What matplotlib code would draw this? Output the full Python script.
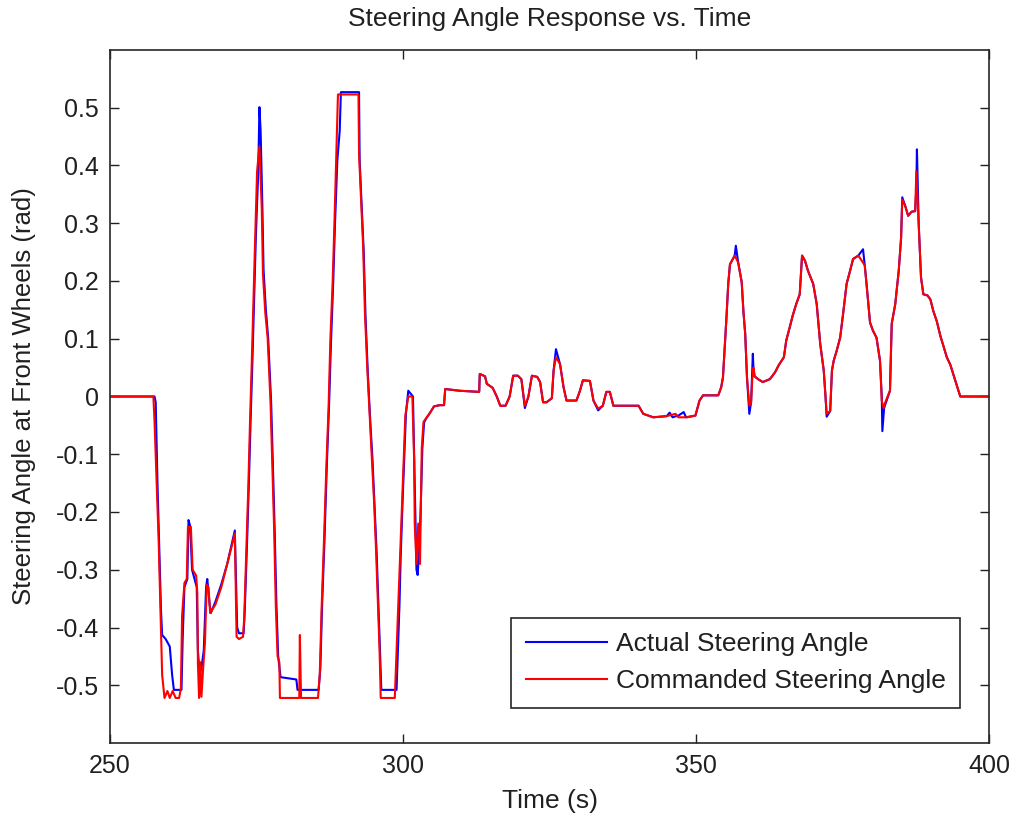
import matplotlib
matplotlib.use("Agg")
import matplotlib.pyplot as plt
from matplotlib.ticker import FixedLocator, FixedFormatter

plt.rcParams['font.family'] = ['Liberation Sans', 'DejaVu Sans']
plt.rcParams['axes.unicode_minus'] = False

# Commanded steering angle (red)
t_cmd = [250, 257.4, 257.6, 258.0, 258.3, 258.6, 258.9, 259.3, 259.8, 260.2, 260.7, 261.2, 261.8, 262.1,
         262.3, 262.7, 263.1, 263.3, 263.8, 264.1, 264.7, 264.9, 265.0, 265.2, 265.4, 265.6, 265.9, 266.2,
         266.5, 266.8, 267.1, 268.0, 269.0, 270.0, 271.0, 271.3, 271.6, 272.0, 272.7, 272.9, 273.3, 273.6,
         273.9, 274.2, 274.5, 274.8, 275.1, 275.5, 275.9, 276.1, 276.5, 276.9, 277.4, 277.7, 278.0, 278.3,
         278.6, 278.9, 279.0, 282.3, 282.4, 282.6, 285.5, 285.8, 286.1, 286.5, 286.9, 287.3, 287.6, 288.0,
         288.3, 288.6, 288.9, 292.4, 292.5, 292.8, 293.2, 293.5, 293.9, 294.3, 294.7, 295.1, 295.4, 295.7,
         296.0, 296.2, 298.6, 298.9, 299.2, 299.5, 299.8, 300.1, 300.4, 300.9, 301.6, 301.9, 302.0, 302.3,
         302.6, 302.9, 303.2, 303.5, 304.0, 304.5, 305.3, 306.3, 307.0, 307.2, 309.6, 313.0, 313.1, 314.0,
         314.3, 315.3, 316.0, 316.6, 317.5, 318.2, 318.8, 319.6, 320.2, 320.8, 321.4, 322.0, 322.9, 323.4,
         323.9, 324.5, 325.4, 325.7, 326.1, 326.8, 327.4, 327.9, 329.6, 330.2, 330.7, 331.9, 332.5, 333.3,
         334.1, 334.7, 335.3, 335.9, 340.2, 341.0, 342.7, 345.0, 346.5, 347.0, 348.5, 349.9, 350.6, 351.2,
         353.8, 354.3, 354.6, 354.9, 355.2, 355.5, 355.8, 356.6, 356.8, 357.2, 357.8, 358.1, 358.4, 358.7,
         359.1, 359.4, 359.6, 359.8, 360.0, 360.6, 361.4, 362.6, 363.5, 364.1, 365.0, 365.4, 366.0, 366.5,
         367.1, 367.7, 368.1, 368.6, 369.1, 370.0, 370.6, 371.2, 371.8, 372.1, 372.3, 372.9, 373.2, 373.5,
         374.0, 374.6, 375.1, 375.7, 376.3, 376.8, 377.7, 378.3, 378.8, 379.1, 379.7, 380.2, 380.8, 381.4,
         381.7, 382.0, 382.3, 383.1, 383.4, 384.0, 384.6, 385.0, 385.2, 385.7, 386.2, 386.8, 387.4, 387.6,
         388.0, 388.4, 388.8, 389.5, 390.0, 390.5, 391.1, 391.7, 392.2, 392.8, 393.4, 393.9, 394.5, 395.1, 400]
v_cmd = [0, 0, -0.044, -0.163, -0.249, -0.366, -0.482, -0.522, -0.51, -0.522, -0.51, -0.522, -0.522, -0.505,
         -0.38, -0.323, -0.316, -0.226, -0.226, -0.30, -0.31, -0.34, -0.461, -0.522, -0.46, -0.52, -0.47, -0.427,
         -0.326, -0.33, -0.375, -0.36, -0.33, -0.29, -0.25, -0.237, -0.416, -0.42, -0.416, -0.385, -0.254, -0.157,
         -0.041, 0.062, 0.174, 0.284, 0.39, 0.433, 0.325, 0.212, 0.145, 0.102, -0.012, -0.116, -0.226, -0.364,
         -0.45, -0.46, -0.522, -0.522, -0.413, -0.522, -0.522, -0.48, -0.37, -0.254, -0.128, -0.018, 0.097, 0.2,
         0.301, 0.413, 0.523, 0.523, 0.42, 0.35, 0.26, 0.146, 0.05, -0.03, -0.107, -0.19, -0.266, -0.352,
         -0.439, -0.522, -0.522, -0.44, -0.358, -0.278, -0.191, -0.11, -0.033, 0.0, 0.0, -0.11, -0.22, -0.29,
         -0.22, -0.29, -0.09, -0.044, -0.037, -0.03, -0.017, -0.015, -0.015, 0.013, 0.01, 0.008, 0.039, 0.035,
         0.022, 0.015, 0.0, -0.016, -0.016, 0.0, 0.036, 0.036, 0.03, -0.016, 0.0, 0.036, 0.034, 0.025,
         -0.01, -0.01, -0.003, 0.045, 0.068, 0.056, 0.016, -0.007, -0.007, 0.01, 0.028, 0.027, -0.007, -0.021,
         -0.016, 0.008, 0.008, -0.016, -0.016, -0.03, -0.036, -0.034, -0.03, -0.036, -0.036, -0.033, -0.007, 0.002,
         0.002, 0.016, 0.033, 0.085, 0.137, 0.195, 0.229, 0.244, 0.24, 0.232, 0.198, 0.146, 0.108, 0.033,
         -0.016, -0.01, 0.03, 0.05, 0.035, 0.03, 0.025, 0.03, 0.042, 0.054, 0.068, 0.097, 0.12, 0.14,
         0.16, 0.177, 0.244, 0.235, 0.218, 0.195, 0.16, 0.091, 0.045, 0.0, -0.03, -0.025, 0.045, 0.062,
         0.079, 0.102, 0.143, 0.195, 0.218, 0.238, 0.244, 0.235, 0.227, 0.195, 0.128, 0.114, 0.102, 0.062,
         -0.007, -0.02, -0.01, 0.01, 0.126, 0.16, 0.218, 0.275, 0.341, 0.33, 0.313, 0.32, 0.321, 0.39,
         0.30, 0.206, 0.177, 0.175, 0.168, 0.148, 0.13, 0.105, 0.088, 0.068, 0.055, 0.039, 0.02, 0.0, 0.0]

# Actual steering angle (blue)
t_act = [250, 257.6, 257.8, 258.1, 258.4, 258.7, 258.9, 259.5, 260.2, 260.6, 260.9, 262.2, 262.4, 262.7,
         263.2, 263.4, 263.7, 264.0, 264.8, 265.0, 265.3, 265.6, 266.0, 266.4, 266.6, 267.0, 267.2, 268.0,
         269.0, 270.0, 271.3, 271.7, 272.0, 272.8, 273.0, 273.4, 273.7, 274.0, 274.3, 274.6, 274.9, 275.3,
         275.5, 275.7, 276.0, 276.2, 276.6, 277.0, 277.5, 277.8, 278.1, 278.4, 278.7, 279.1, 281.8, 282.0,
         285.6, 285.9, 286.2, 286.6, 287.0, 287.4, 287.7, 288.1, 288.4, 288.8, 289.2, 289.4, 292.5, 292.6,
         292.9, 293.3, 293.6, 294.0, 294.4, 294.8, 295.2, 295.5, 295.8, 296.1, 296.3, 298.9, 299.1, 299.4,
         299.6, 299.9, 300.2, 300.5, 300.9, 301.3, 301.7, 302.0, 302.3, 302.5, 302.8, 303.0, 303.3, 303.6,
         304.0, 304.5, 305.3, 306.3, 307.0, 307.2, 309.6, 313.0, 313.1, 314.0, 314.3, 315.3, 316.0, 316.6,
         317.5, 318.2, 318.8, 319.6, 320.2, 320.8, 321.4, 322.0, 322.9, 323.4, 323.9, 324.5, 325.4, 325.7,
         326.1, 326.8, 327.4, 327.9, 329.6, 330.2, 330.7, 331.9, 332.5, 333.3, 334.1, 334.7, 335.3, 335.9,
         340.2, 341.0, 342.7, 345.0, 345.5, 346.0, 347.0, 347.9, 348.3, 349.9, 350.6, 351.2, 353.8, 354.3,
         354.6, 354.9, 355.2, 355.5, 355.8, 356.6, 356.8, 357.2, 357.8, 358.1, 358.4, 358.7, 359.1, 359.4,
         359.7, 359.8, 360.0, 360.6, 361.4, 362.6, 363.5, 364.1, 365.0, 365.4, 366.0, 366.5, 367.1, 367.7,
         368.1, 368.6, 369.1, 370.0, 370.6, 371.2, 371.8, 372.1, 372.3, 372.9, 373.2, 373.5, 374.0, 374.6,
         375.1, 375.7, 376.3, 376.8, 377.7, 378.5, 378.8, 379.1, 379.7, 380.2, 380.8, 381.4, 381.7, 381.8,
         382.1, 383.1, 383.4, 384.0, 384.6, 385.0, 385.2, 385.7, 386.2, 386.8, 387.4, 387.6, 387.7, 388.0,
         388.4, 388.8, 389.5, 390.0, 390.5, 391.1, 391.7, 392.2, 392.8, 393.4, 393.9, 394.5, 395.1, 400]
v_act = [0, 0, -0.01, -0.15, -0.26, -0.37, -0.413, -0.42, -0.433, -0.482, -0.508, -0.508, -0.42, -0.33,
         -0.316, -0.214, -0.225, -0.30, -0.33, -0.44, -0.48, -0.47, -0.44, -0.33, -0.316, -0.36, -0.375, -0.355,
         -0.325, -0.29, -0.232, -0.40, -0.41, -0.41, -0.37, -0.25, -0.15, -0.04, 0.06, 0.17, 0.28, 0.39,
         0.501, 0.46, 0.33, 0.22, 0.15, 0.10, -0.01, -0.12, -0.23, -0.36, -0.45, -0.486, -0.49, -0.508,
         -0.508, -0.47, -0.36, -0.25, -0.12, -0.01, 0.09, 0.2, 0.3, 0.41, 0.46, 0.527, 0.527, 0.41,
         0.34, 0.25, 0.14, 0.04, -0.04, -0.11, -0.2, -0.27, -0.36, -0.45, -0.508, -0.508, -0.45, -0.36,
         -0.28, -0.19, -0.11, -0.03, 0.01, 0.005, 0.0, -0.15, -0.30, -0.309, -0.26, -0.2, -0.09, -0.045,
         -0.037, -0.03, -0.017, -0.015, -0.015, 0.013, 0.01, 0.008, 0.039, 0.035, 0.022, 0.015, 0.0, -0.016,
         -0.016, 0.0, 0.036, 0.036, 0.03, -0.02, 0.0, 0.036, 0.034, 0.025, -0.01, -0.01, -0.003, 0.045,
         0.082, 0.056, 0.016, -0.007, -0.007, 0.01, 0.028, 0.027, -0.007, -0.024, -0.016, 0.008, 0.008, -0.016,
         -0.016, -0.03, -0.036, -0.034, -0.028, -0.036, -0.033, -0.027, -0.036, -0.033, -0.007, 0.002, 0.002, 0.016,
         0.033, 0.085, 0.137, 0.195, 0.229, 0.244, 0.261, 0.232, 0.198, 0.146, 0.108, 0.033, -0.03, -0.01,
         0.074, 0.05, 0.035, 0.03, 0.025, 0.03, 0.042, 0.054, 0.068, 0.097, 0.12, 0.14, 0.16, 0.177,
         0.244, 0.235, 0.218, 0.195, 0.16, 0.091, 0.045, 0.0, -0.035, -0.025, 0.045, 0.062, 0.079, 0.102,
         0.143, 0.195, 0.218, 0.238, 0.244, 0.255, 0.227, 0.195, 0.128, 0.114, 0.102, 0.062, 0.0, -0.06,
         -0.02, 0.01, 0.126, 0.16, 0.218, 0.275, 0.345, 0.33, 0.313, 0.32, 0.321, 0.36, 0.428, 0.30,
         0.206, 0.177, 0.175, 0.168, 0.148, 0.13, 0.105, 0.088, 0.068, 0.055, 0.039, 0.02, 0.0, 0.0]

x_ticks = [250, 300, 350, 400]
y_ticks = [-0.5, -0.4, -0.3, -0.2, -0.1, 0, 0.1, 0.2, 0.3, 0.4, 0.5]
y_tick_labels = ['-0.5', '-0.4', '-0.3', '-0.2', '-0.1', '0', '0.1', '0.2', '0.3', '0.4', '0.5']

fig = plt.figure(figsize=(10.13, 8.17), dpi=100)
ax = fig.add_axes([110/1013, 1 - 743/817, 879/1013, 693/817])

ax.plot(t_act, v_act, color='#0000ff', lw=1.5, label='Actual Steering Angle')
ax.plot(t_cmd, v_cmd, color='#ff0000', lw=1.5, label='Commanded Steering Angle')

ax.set_xlim(250, 400)
ax.set_ylim(-0.6, 0.6)
ax.xaxis.set_major_locator(FixedLocator(x_ticks))
ax.yaxis.set_major_locator(FixedLocator(y_ticks))
ax.yaxis.set_major_formatter(FixedFormatter(y_tick_labels))
ax.tick_params(direction='in', length=6.5, width=1, top=True, right=True,
               labelsize=18, colors='#202020', pad=8)
for s in ax.spines.values():
    s.set_color('#262626')
    s.set_linewidth(1.2)

ax.set_title('Steering Angle Response vs. Time', fontsize=19, pad=17, color='#202020')
ax.set_xlabel('Time (s)', fontsize=19, labelpad=8, color='#202020')
ax.set_ylabel('Steering Angle at Front Wheels (rad)', fontsize=18.5, labelpad=14, color='#202020')

leg = ax.legend(loc='lower right', bbox_to_anchor=(0.967, 0.0505), borderaxespad=0,
                fontsize=19, fancybox=False, edgecolor='#262626', framealpha=1,
                handlelength=3.07, handletextpad=0.34, labelspacing=0.5, borderpad=0.55)
leg.get_frame().set_linewidth(1.2)
for txt in leg.get_texts():
    txt.set_color('#202020')

fig.savefig('out.png', dpi=100)
